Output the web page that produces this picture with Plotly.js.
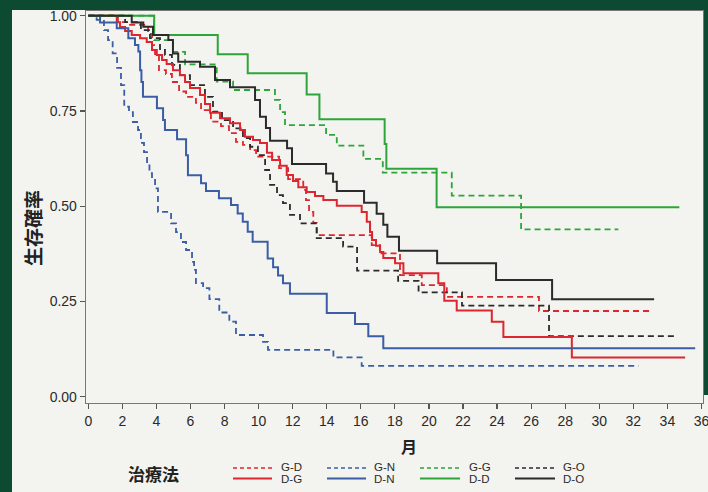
<!DOCTYPE html>
<html><head><meta charset="utf-8">
<script src="https://cdn.plot.ly/plotly-3.0.1.min.js"></script>
<style>
html,body{margin:0;padding:0;background:#0c4a32;width:708px;height:492px;overflow:hidden;}
#chart{position:absolute;left:0;top:0;width:708px;height:492px;}
</style></head><body><div id="chart"></div>
<script>
// ---- data (months, survival probability) ----
const groupNames = ['G-D','D-G','G-N','D-N','G-G','D-D','G-O','D-O'];
const xTickVals = [0,2,4,6,8,10,12,14,16,18,20,22,24,26,28,30,32,34,36];
const yTickVals = [0,0.25,0.5,0.75,1];
const yTickText = ['0.00','0.25','0.50','0.75','1.00'];
const xTitle = '月';
const yTitle = '生存確率';
const legendTitle = '治療法';

const tGD = [0,1.74,2.33,3.51,3.74,3.92,4.15,4.56,4.91,5.33,5.74,6.32,6.62,7.20,7.79,8.26,8.67,9.08,9.50,9.85,11.20,11.73,12.62,12.78,12.96,13.21,13.41,16.64,17.13,18.30,19.58,21.05,26.46,33.08];
const sGD = [1,0.983,0.976,0.952,0.923,0.897,0.857,0.847,0.826,0.801,0.787,0.771,0.752,0.722,0.710,0.692,0.669,0.661,0.647,0.630,0.600,0.571,0.543,0.516,0.485,0.456,0.424,0.398,0.376,0.319,0.293,0.262,0.225,0.225];

const tDG = [0,1.67,1.86,2.16,2.55,3.04,3.43,3.74,4.02,4.33,4.60,4.97,5.38,5.68,5.97,6.56,6.85,7.15,7.73,8.32,8.91,9.20,9.67,10.08,10.49,10.79,11.26,11.65,12.02,12.33,12.82,13.31,13.80,14.59,16.05,16.35,16.54,16.66,16.89,17.13,17.32,18.01,18.50,20.55,20.90,21.63,23.69,24.37,28.39,35.04];
const sDG = [1,0.983,0.970,0.960,0.949,0.941,0.931,0.910,0.897,0.884,0.873,0.857,0.844,0.826,0.810,0.792,0.768,0.745,0.731,0.718,0.700,0.682,0.674,0.666,0.640,0.621,0.606,0.582,0.566,0.550,0.537,0.527,0.516,0.501,0.485,0.459,0.432,0.411,0.396,0.380,0.364,0.350,0.324,0.298,0.252,0.226,0.197,0.157,0.103,0.103];

const tGN = [0,0.49,0.92,1.16,1.43,1.69,1.92,2.11,2.39,2.62,2.92,3.09,3.27,3.45,3.59,3.74,3.92,4.09,4.86,5.15,5.44,5.74,6.09,6.21,6.32,6.74,7.11,7.69,8.28,8.67,10.26,10.55,14.39,16.05,32.30];
const sGN = [1,0.989,0.962,0.936,0.901,0.863,0.818,0.761,0.747,0.721,0.700,0.666,0.642,0.616,0.587,0.574,0.547,0.485,0.455,0.432,0.406,0.385,0.354,0.333,0.298,0.285,0.256,0.221,0.197,0.162,0.144,0.123,0.103,0.081,0.081];

const tDN = [0,0.69,1.67,2.35,2.74,2.94,3.04,3.12,3.21,4.03,4.39,4.50,5.21,5.74,5.85,6.62,6.91,7.67,8.38,8.77,9.07,9.36,9.65,10.53,10.85,11.14,11.43,11.84,14.00,15.66,16.44,17.32,35.63];
const sDN = [1,0.982,0.967,0.941,0.923,0.906,0.857,0.826,0.787,0.757,0.726,0.700,0.676,0.634,0.581,0.560,0.540,0.521,0.503,0.481,0.459,0.433,0.407,0.363,0.340,0.318,0.298,0.270,0.220,0.191,0.159,0.127,0.127];

const tGG = [0,3.86,4.97,5.68,7.54,8.50,10.96,11.26,11.55,13.96,14.59,16.15,17.29,21.34,25.41,31.12];
const sGG = [1,0.936,0.905,0.872,0.827,0.805,0.779,0.747,0.713,0.687,0.659,0.624,0.588,0.528,0.439,0.439];

const tDD = [0,3.87,7.60,9.36,12.82,13.57,17.40,17.50,20.45,34.70];
const sDD = [1,0.949,0.899,0.849,0.793,0.728,0.663,0.598,0.497,0.497];

const tGO = [0,2.16,3.09,3.62,4.21,4.50,4.91,5.38,5.97,6.85,7.32,7.85,8.50,9.08,9.50,9.96,10.38,10.67,11.08,11.43,11.84,12.43,13.41,14.96,15.78,18.19,19.39,21.94,27.05,34.55];
const sGO = [1,0.983,0.962,0.941,0.910,0.897,0.871,0.844,0.818,0.787,0.748,0.726,0.704,0.679,0.656,0.634,0.595,0.556,0.529,0.508,0.477,0.455,0.416,0.394,0.331,0.304,0.274,0.239,0.159,0.159];

const tDO = [0,2.55,3.23,3.80,4.70,4.97,5.28,6.56,7.44,8.32,9.79,10.08,10.43,10.67,11.67,11.96,13.96,14.37,14.59,16.19,16.93,17.32,17.56,18.24,20.48,23.94,27.23,33.22];
const sDO = [1,0.982,0.971,0.949,0.936,0.901,0.879,0.866,0.831,0.812,0.779,0.735,0.705,0.672,0.652,0.611,0.586,0.564,0.540,0.509,0.480,0.451,0.420,0.383,0.350,0.306,0.256,0.256];

// ---- styles ----
const RED = '#de2630', BLUE = '#3b5da5', GREEN = '#2ea53a', BLACK = '#2b2b2b';
const DASH = '6px,4px';
const series = [
  {t:tGD, s:sGD, name:groupNames[0], color:RED,   dash:DASH},
  {t:tGN, s:sGN, name:groupNames[2], color:BLUE,  dash:DASH},
  {t:tGG, s:sGG, name:groupNames[4], color:GREEN, dash:DASH},
  {t:tGO, s:sGO, name:groupNames[6], color:BLACK, dash:DASH},
  {t:tDG, s:sDG, name:groupNames[1], color:RED,   dash:'solid'},
  {t:tDN, s:sDN, name:groupNames[3], color:BLUE,  dash:'solid'},
  {t:tDD, s:sDD, name:groupNames[5], color:GREEN, dash:'solid'},
  {t:tDO, s:sDO, name:groupNames[7], color:BLACK, dash:'solid'}
];
const traces = series.map(d => ({
  x: d.t, y: d.s, name: d.name, type: 'scatter', mode: 'lines',
  line: {shape: 'hv', color: d.color, width: d.dash === 'solid' ? 2 : 1.8, dash: d.dash},
  showlegend: false, hoverinfo: 'skip'
}));

// page pixel -> paper coordinates (plot area is page x 86..703, y 11..403)
const PX0 = 86, PW = 617, PY1 = 403, PH = 392;
const px = v => (v - PX0) / PW;
const py = v => (PY1 - v) / PH;

const FONT = 'Arial, "Liberation Sans", sans-serif';
const CJK = '"Noto Sans CJK JP", "Noto Sans CJK SC", sans-serif';

const legendPos = [
  {i:0, j:1, color:RED,   x0:233, x1:272, lx:279},
  {i:2, j:3, color:BLUE,  x0:327, x1:366, lx:372},
  {i:4, j:5, color:GREEN, x0:420, x1:460, lx:467},
  {i:6, j:7, color:BLACK, x0:515, x1:555, lx:561}
];
const PANEL = '#f3f4ef';
const shapes = [
  // light panel
  {type:'rect', xref:'paper', yref:'paper', layer:'below', x0:px(12), x1:px(704), y0:py(492), y1:py(10),
   fillcolor:PANEL, line:{width:0}},
  {type:'rect', xref:'paper', yref:'paper', layer:'below', x0:px(703), x1:px(708), y0:py(492), y1:py(395),
   fillcolor:PANEL, line:{width:0}}
];
const ann = (text, x, y, font, extra) => Object.assign({text, x:px(x), y:py(y), xref:'paper', yref:'paper',
  showarrow:false, xanchor:'center', yanchor:'middle', font}, extra || {});
const annotations = [
  ann('<b>' + xTitle + '</b>', 409, 446, {family:CJK, size:16, color:'#222'}),
  ann('<b>' + yTitle + '</b>', 32, 228, {family:CJK, size:19, color:'#222'}, {textangle:-90}),
  ann('<b>' + legendTitle + '</b>', 153, 473, {family:CJK, size:17, color:'#222'})
];
legendPos.forEach(L => {
  shapes.push({type:'line', xref:'paper', yref:'paper', x0:px(L.x0), x1:px(L.x1), y0:py(468), y1:py(468),
    line:{color:L.color, width:1.5, dash:'4px,3px'}});
  shapes.push({type:'line', xref:'paper', yref:'paper', x0:px(L.x0), x1:px(L.x1), y0:py(478.5), y1:py(478.5),
    line:{color:L.color, width:2}});
  annotations.push(ann(groupNames[L.i], L.lx, 467, {family:FONT, size:11.5, color:'#2a2a2a'}, {xanchor:'left'}));
  annotations.push(ann(groupNames[L.j], L.lx, 479, {family:FONT, size:11.5, color:'#2a2a2a'}, {xanchor:'left'}));
});

const axisCommon = {
  ticks: 'outside', ticklen: 5, tickwidth: 1.2, tickcolor: '#555',
  showline: true, mirror: true, linecolor: '#777', linewidth: 1.3,
  showgrid: false, zeroline: false, ticklabeloverflow: 'allow',
  tickfont: {family: FONT, size: 14, color: '#2a2a2a'}
};
const layout = {
  width: 708, height: 492,
  margin: {l: 86, r: 5, t: 11, b: 89},
  paper_bgcolor: '#0c4a32', plot_bgcolor: 'rgba(0,0,0,0)',
  font: {family: FONT, size: 14, color: '#2a2a2a'},
  xaxis: Object.assign({range: [-0.135, 36.09], tickvals: xTickVals, ticktext: xTickVals.map(String)}, axisCommon),
  yaxis: Object.assign({range: [-0.0165, 1.0123], tickvals: yTickVals, ticktext: yTickText}, axisCommon),
  shapes: shapes,
  annotations: annotations,
  showlegend: false
};
Plotly.newPlot('chart', traces, layout, {staticPlot: true, displayModeBar: false});
</script></body></html>
